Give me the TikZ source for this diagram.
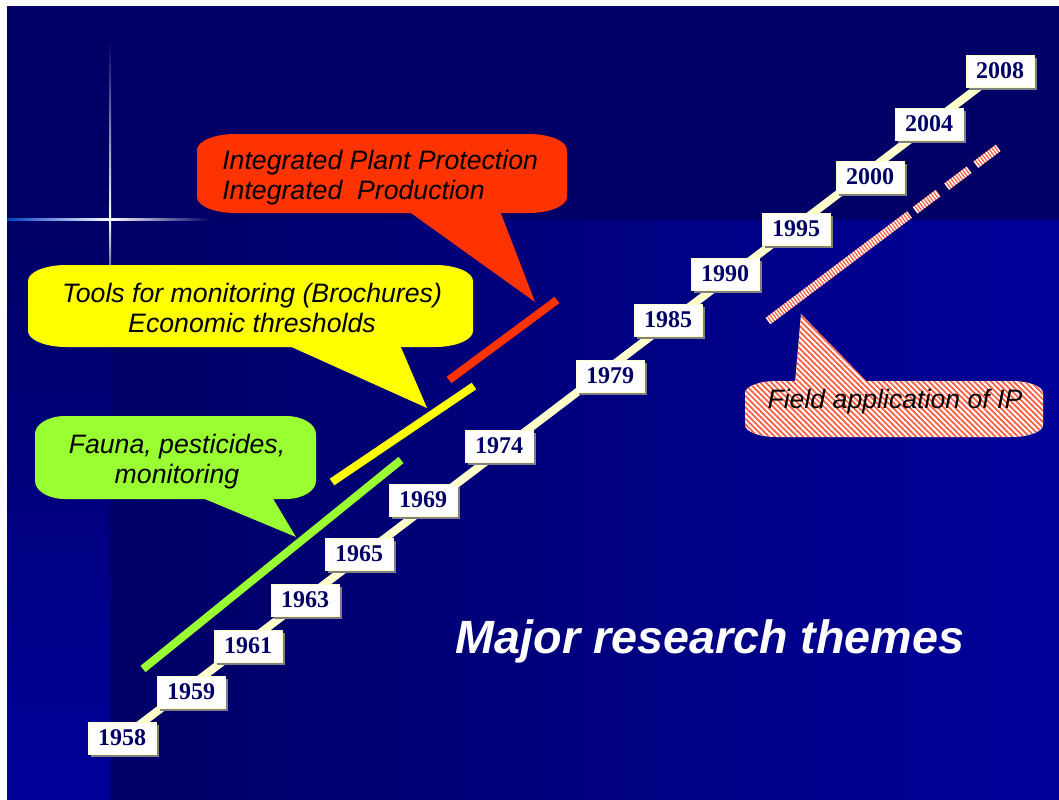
\documentclass[tikz,border=0pt]{standalone}
\usepackage{fontspec}
\setmainfont{Liberation Sans}
\newfontfamily\yearfont{Liberation Serif}
\usetikzlibrary{positioning, shadows, patterns.meta, calc}

\definecolor{navy}{HTML}{000066}
\definecolor{deepblue}{HTML}{000099}
\definecolor{cream}{HTML}{FFFFCC}
\definecolor{ipred}{HTML}{FF3300}
\definecolor{ipyellow}{HTML}{FFFF00}
\definecolor{ipgreen}{HTML}{99FF33}
\definecolor{hatch}{HTML}{FF5A3C}
\definecolor{glow}{HTML}{0066FF}

\pgfdeclarelayer{mid}
\pgfsetlayers{mid,main}

% balloon outline with flat, elliptic corners: x1 y1 x2 y2 rx ry
\newcommand{\balloon}[6]{(#1,#2+#6)
  .. controls (#1,#2+0.45*#6) and (#1+0.45*#5,#2) .. (#1+#5,#2) -- (#3-#5,#2)
  .. controls (#3-0.45*#5,#2) and (#3,#2+0.45*#6) .. (#3,#2+#6) -- (#3,#4-#6)
  .. controls (#3,#4-0.45*#6) and (#3-0.45*#5,#4) .. (#3-#5,#4) -- (#1+#5,#4)
  .. controls (#1+0.45*#5,#4) and (#1,#4-0.45*#6) .. (#1,#4-#6) -- cycle}

\begin{document}
\begin{tikzpicture}[
    x=0.75pt, y=-0.75pt,
    yearbox/.style={draw=cream, fill=white, minimum width=51pt, minimum height=24pt, inner sep=0pt,
        text=navy, font=\yearfont\bfseries\fontsize{18}{18}\selectfont,
        drop shadow={shadow xshift=2.25pt, shadow yshift=-2.25pt, fill=gray, opacity=1}},
    timeline/.style={cream, line width=6pt},
    theme/.style={line width=6pt},
    bubtext/.style={font=\itshape\fontsize{20}{22.5}\selectfont, inner sep=0pt, text=black},
    ipbar/.style={draw=hatch, line width=6pt, postaction={draw=white, line width=6pt, dash pattern=on 1.1pt off 1.1pt}},
    hatched/.style={preaction={fill=white}, pattern={Lines[angle=-45,distance=3pt,line width=1.3pt]}, pattern color=hatch}
]
\useasboundingbox (0,0) rectangle (1059,799);

% backdrop
\begin{pgfonlayer}{mid}
\fill[white] (0,0) rectangle (1059,799);
\fill[navy] (7,6) rectangle (1059,220);
\shade[top color=navy, bottom color=deepblue] (7,220) rectangle (110,799);
\shade[left color=navy, right color=deepblue] (110,220) rectangle (1059,799);
% sparkle
\shade[top color=navy, middle color=glow, bottom color=white] (109,40) rectangle (111,219);
\shade[top color=white, middle color=glow, bottom color=navy] (109,219) rectangle (111,300);
\shade[left color=glow!60!navy, right color=white] (7,218) rectangle (110,220);
\shade[left color=white, middle color=glow, right color=navy] (110,218) rectangle (210,220);
\end{pgfonlayer}

% balloons
\fill[ipred] \balloon{197}{134}{567}{213}{38}{16};
\fill[ipred] (408,211) -- (535,302) -- (500,211) -- cycle;
\fill[ipyellow] \balloon{28}{265}{473}{347}{38}{16};
\fill[ipyellow] (287,345) -- (427,408) -- (400,345) -- cycle;
\fill[ipgreen] \balloon{35}{416}{316}{499}{30}{18};
\fill[ipgreen] (200,497) -- (296,537) -- (272,497) -- cycle;
\fill[hatched] \balloon{745}{381}{1043}{437}{32}{12} (795,383) -- (801,314) -- (868,383) -- cycle;

\node[bubtext, anchor=west, align=left] (ipp) at (222,178) {Integrated Plant Protection\\Integrated\ \ Production};
\node[bubtext, align=center] (tools) at (252,308) {Tools for monitoring (Brochures)\\Economic thresholds};
\node[bubtext, align=center] (fauna) at (177,462) {Fauna, pesticides,\\monitoring};
\node[bubtext] (field) at (895,402) {Field application of IP};

% theme bars
\draw[theme, ipgreen] (143,669) -- (401,460);
\draw[theme, ipyellow] (332,482) -- (474,386);
\draw[theme, ipred] (449,380) -- (557,300);
\coordinate (fa) at (768,321);
\coordinate (fb) at (998,148);
\foreach \s/\e in {0/0.615, 0.64/0.74, 0.777/0.874, 0.904/1}
  \draw[ipbar] ($(fa)!\s!(fb)$) -- ($(fa)!\e!(fb)$);

% years
\foreach \yr/\px/\py in {1958/122/738, 1959/191/692, 1961/248/646, 1963/305/600, 1965/359/554,
    1969/423/500, 1974/499/446, 1979/610/376, 1985/668/320, 1990/725/274, 1995/796/229,
    2000/870/177, 2004/929/124, 2008/1000/71}
  \node[yearbox] (y\yr) at (\px,\py) {\yr};
\begin{pgfonlayer}{mid}
\draw[timeline] (y1958.center) -- (y2008.center);
\end{pgfonlayer}

\node[font=\bfseries\itshape\fontsize{35}{40}\selectfont, text=white, anchor=base] (themes) at (710,653) {Major research themes};
\end{tikzpicture}
\end{document}
